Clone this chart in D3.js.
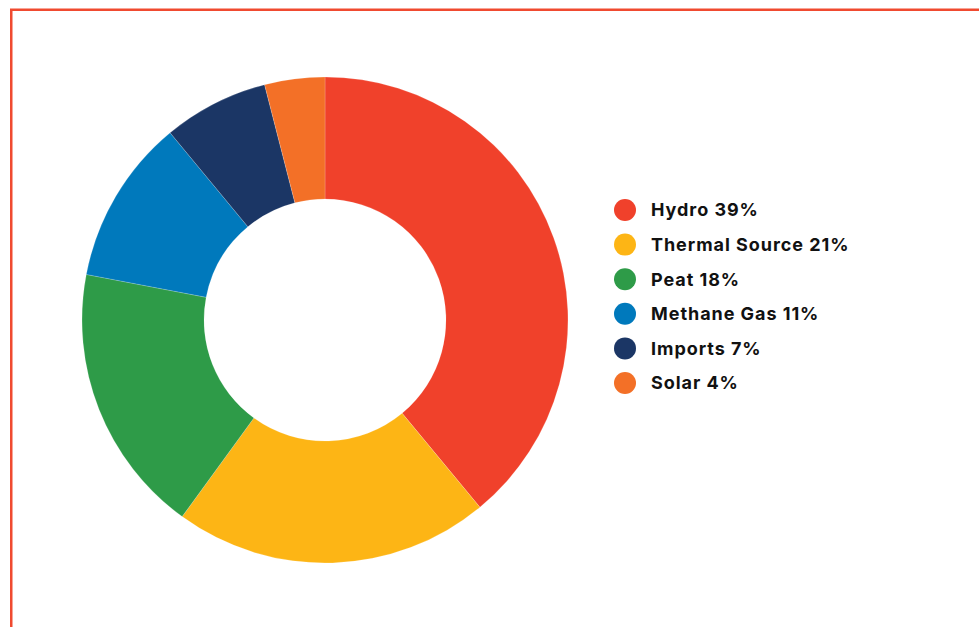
<!DOCTYPE html>
<html>
<head>
<meta charset="utf-8">
<script src="https://cdn.jsdelivr.net/npm/d3@7"></script>
<style>
  html, body { margin: 0; padding: 0; background: #fff; }
  svg { display: block; }
</style>
</head>
<body>
<svg id="chart" width="979" height="627"></svg>
<script>
// Electricity generation mix, share by source (%)
const categories = ["Hydro", "Thermal Source", "Peat", "Methane Gas", "Imports", "Solar"];
const shares = [39, 21, 18, 11, 7, 4];
const colors = ["#f0412b", "#fdb515", "#2e9b48", "#0079bc", "#1b3665", "#f37027"];

const data = categories.map((c, i) => ({ name: c, value: shares[i], color: colors[i] }));

const svg = d3.select("#chart");

// frame
svg.append("rect")
  .attr("x", 11.25).attr("y", 9.75)
  .attr("width", 1100).attr("height", 1100)
  .attr("fill", "none")
  .attr("stroke", "#f04a30")
  .attr("stroke-width", 2.5);

const cx = 325, cy = 320;
const outerR = 243, innerR = 121;

const pie = d3.pie().value(d => d.value).sort(null);
const arc = d3.arc().innerRadius(innerR).outerRadius(outerR);

svg.append("g")
  .attr("transform", `translate(${cx},${cy})`)
  .selectAll("path")
  .data(pie(data))
  .join("path")
  .attr("d", arc)
  .attr("fill", d => d.data.color)
  .attr("stroke", "rgba(255,255,255,0.6)")
  .attr("stroke-width", 0.3);

// legend
const legend = svg.append("g").attr("transform", "translate(625,210)");
const rowH = 34.6;
const item = legend.selectAll("g")
  .data(data)
  .join("g")
  .attr("transform", (d, i) => `translate(0,${i * rowH})`);

item.append("circle")
  .attr("r", 11)
  .attr("fill", d => d.color);

item.append("text")
  .attr("x", 26)
  .attr("dy", "0.36em")
  .attr("font-family", "Inter, 'Open Sans', sans-serif")
  .attr("font-weight", 700)
  .attr("font-size", 18)
  .attr("letter-spacing", "0.95px")
  .attr("fill", "#111")
  .text(d => `${d.name} ${d.value}%`);
</script>
</body>
</html>
